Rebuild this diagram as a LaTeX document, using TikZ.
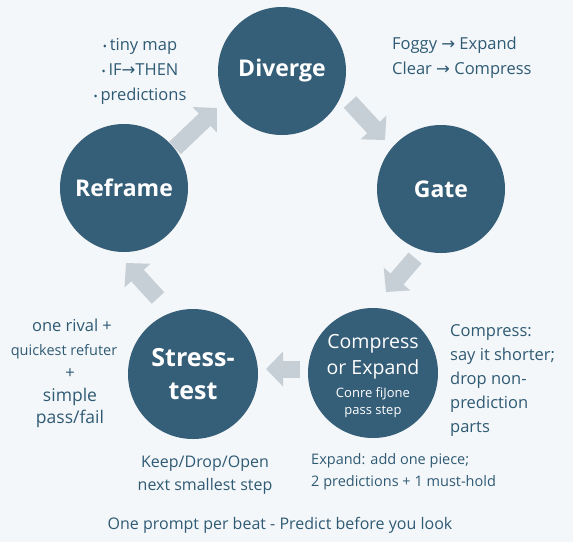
\documentclass[tikz,border=0pt]{standalone}
\usepackage{fontspec}
\setmainfont{Open Sans}
\newfontfamily\arrfont{DejaVu Sans}
\usetikzlibrary{arrows.meta}
\definecolor{bg}{HTML}{F4F7F9}
\definecolor{circ}{HTML}{355E78}
\definecolor{txt}{HTML}{2F5A74}
\definecolor{arr}{HTML}{C6CFD6}
\newcommand{\ra}{{\arrfont\char"2192}}
\newcommand{\bul}{{\fontsize{11}{11}\selectfont\char"2022}\,}
\tikzset{
  beat/.style={circle, fill=circ, minimum size=128pt, inner sep=0pt, text=white, align=center, font=\bfseries\fontsize{23}{27}\selectfont},
  side/.style={text=txt, font=\fontsize{16.5}{25}\selectfont, inner sep=0pt},
  flow/.style={arr, line width=17pt, -{Triangle[width=34pt,length=17pt]}}
}
\begin{document}
\begin{tikzpicture}[x=1pt,y=-1pt]
\fill[bg] (0,0) rectangle (573,542);
\useasboundingbox (0,0) rectangle (573,542);
\node[beat] (div) at (282,71) {Diverge};
\node[beat] (gate) at (441,189) {Gate};
\node[beat] (ref) at (124,188) {Reframe};
\node[beat, minimum size=130pt, font=\bfseries\fontsize{25}{33}\selectfont] (st) at (193,374) {Stress-\\test};
\node[beat, minimum size=130pt] (ce) at (373,373) {};
\node[text=white, align=center, font=\fontsize{19.5}{26}\selectfont, inner sep=0pt] (cet) at (373,357) {Compress\\or Expand};
\node[text=white, align=center, font=\fontsize{13}{17}\selectfont, inner sep=0pt] (ces) at (373,403) {Conre fiJone\\pass step};
% arrows
\coordinate (a1s) at (175,148); \coordinate (a1e) at (217,108);
\coordinate (a2s) at (350,102); \coordinate (a2e) at (385,140);
\coordinate (a3s) at (415,258); \coordinate (a3e) at (386,292);
\coordinate (a4s) at (300,369); \coordinate (a4e) at (266,369);
\coordinate (a5s) at (158,298); \coordinate (a5e) at (126,263);
\draw[flow] (a1s) -- (a1e);
\draw[flow] (a2s) -- (a2e);
\draw[flow] (a3s) -- (a3e);
\draw[flow] (a4s) -- (a4e);
\draw[flow] (a5s) -- (a5e);
% side texts
\node[side, align=center] (t1) at (140,71) {\bul tiny map\\ \bul IF\ra THEN\\ \bul predictions};
\node[side, align=left, anchor=west] (t2) at (392,58) {Foggy \ra\ Expand\\Clear \ra\ Compress};
\node[side] (l1) at (72,325) {one rival +};
\node[side, font=\fontsize{14.5}{16}\selectfont] (l2) at (64,352) {quickest refuter};
\node[side] (l3) at (70,374) {+};
\node[side, font=\fontsize{17.5}{20}\selectfont] (l4) at (70,397) {simple};
\node[side, font=\fontsize{17.5}{20}\selectfont] (l5) at (70,419) {pass/fail};
\node[side, align=left, anchor=west, font=\fontsize{16.5}{24}\selectfont] (r1) at (450,380) {Compress:\\say it shorter;\\drop non-\\prediction\\parts};
\node[side, align=center, font=\fontsize{16}{23}\selectfont] (k1) at (205,475) {Keep/Drop/Open\\next smallest step};
\node[side, align=left, anchor=west, font=\fontsize{14.5}{22}\selectfont] (e1) at (311,472) {Expand: add one piece;\\2 predictions + 1 must-hold};
\node[side, font=\fontsize{16}{18}\selectfont] (bot) at (280,525) {One prompt per beat - Predict before you look};
\end{tikzpicture}
\end{document}
